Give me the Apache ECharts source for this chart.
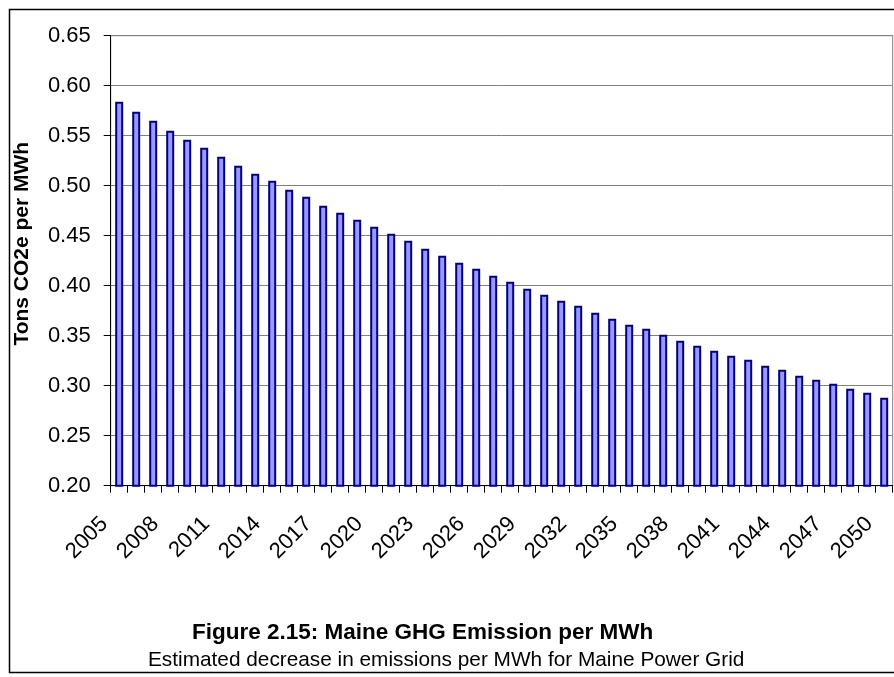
<!DOCTYPE html>
<html>
<head>
<meta charset="utf-8">
<script src="https://cdn.jsdelivr.net/npm/echarts@6/dist/echarts.min.js"></script>
<style>
html,body{margin:0;padding:0;background:#fff;}
#chart{width:894px;height:677px;}
</style>
</head>
<body>
<div id="chart"></div>
<script>
var years = [2005,2006,2007,2008,2009,2010,2011,2012,2013,2014,2015,2016,2017,2018,2019,2020,2021,2022,2023,2024,2025,2026,2027,2028,2029,2030,2031,2032,2033,2034,2035,2036,2037,2038,2039,2040,2041,2042,2043,2044,2045,2046,2047,2048,2049,2050];
var emissions = [0.584,0.574,0.565,0.555,0.546,0.538,0.529,0.520,0.512,0.505,0.496,0.489,0.480,0.473,0.466,0.459,0.452,0.445,0.437,0.430,0.423,0.417,0.410,0.404,0.397,0.391,0.385,0.380,0.373,0.367,0.361,0.357,0.351,0.345,0.340,0.335,0.330,0.326,0.320,0.316,0.310,0.306,0.302,0.297,0.293,0.288];
var yTicks = [0.20,0.25,0.30,0.35,0.40,0.45,0.50,0.55,0.60,0.65];
var titleText = 'Figure 2.15: Maine GHG Emission per MWh';
var subtitleText = 'Estimated decrease in emissions per MWh for Maine Power Grid';
var yAxisName = 'Tons CO2e per MWh';

var font = 'Liberation Sans, Arial, sans-serif';
var chart = echarts.init(document.getElementById('chart'));
chart.setOption({
  animation: false,
  backgroundColor: '#ffffff',
  graphic: [{
    type: 'rect', left: 7, top: 7,
    shape: {width: 950, height: 663},
    style: {fill: 'none', stroke: '#000', lineWidth: 1.5},
    silent: true
  }],
  title: [{
    text: titleText, left: 187, top: 616,
    textStyle: {fontFamily: font, fontSize: 22.5, fontWeight: 'bold', color: '#000'}
  }, {
    text: subtitleText, left: 143, top: 645,
    textStyle: {fontFamily: font, fontSize: 20.8, fontWeight: 'normal', color: '#000'}
  }],
  grid: {
    left: 110.7, right: 1.3, top: 35.7, bottom: 191.3,
    show: true, borderColor: '#808080', borderWidth: 1, backgroundColor: 'transparent'
  },
  xAxis: {
    type: 'category',
    data: years.map(String),
    boundaryGap: true,
    axisLine: {lineStyle: {color: '#000', width: 1}},
    axisTick: {show: true, interval: 0, length: 7, lineStyle: {color: '#000'}},
    axisLabel: {interval: 2, rotate: 45, margin: 20, padding: [0, 21, 0, 0],
      color: '#000', fontFamily: font, fontSize: 22}
  },
  yAxis: {
    type: 'value', min: 0.2, max: 0.65, interval: 0.05,
    name: yAxisName, nameLocation: 'middle', nameGap: 78,
    nameTextStyle: {fontFamily: font, fontSize: 21, fontWeight: 'bold', color: '#000', padding: [0, 0, 0, 34]},
    axisLine: {show: true, lineStyle: {color: '#000', width: 1}},
    axisTick: {show: true, length: 7, lineStyle: {color: '#000'}},
    axisLabel: {margin: 20, color: '#000', fontFamily: font, fontSize: 22,
      formatter: function (v) { var t = yTicks.find(function (k) { return Math.abs(k - v) < 1e-9; }); return (t !== undefined ? t : v).toFixed(2); }},
    splitLine: {show: true, lineStyle: {color: '#808080', width: 1}}
  },
  series: [{
    type: 'bar',
    data: emissions,
    barWidth: 8,
    itemStyle: {color: '#9999ff', borderColor: '#000080', borderWidth: 2}
  }]
});
</script>
</body>
</html>
